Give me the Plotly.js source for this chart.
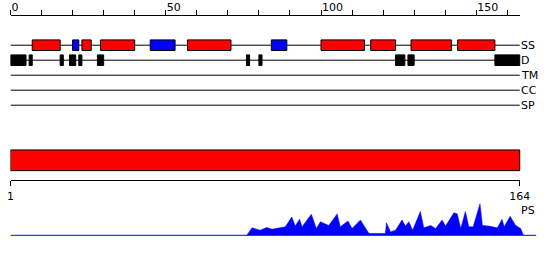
<!DOCTYPE html>
<html>
<head>
<meta charset="utf-8">
<script src="https://cdn.plot.ly/plotly-3.0.1.min.js"></script>
<style>html,body{margin:0;padding:0;background:#fff;}#chart{width:550px;height:260px;}</style>
</head>
<body>
<div id="chart"></div>
<script>
// ---- data ----
var seqLen = 164;
var trackNames = ['SS', 'D', 'TM', 'CC', 'SP'];
var topTickVals = [0, 50, 100, 150];
var bottomTickVals = [0, 164];
var bottomTickText = ['1', '164'];

// secondary structure: helices (red) and strands (blue)
var helixStart = [7, 23, 29, 57, 100, 116, 129, 144];
var helixEnd   = [16, 26, 40, 71, 114, 124, 142, 156];
var strandStart = [20, 45, 84];
var strandEnd   = [22, 53, 89];

// disorder segments (black)
var disStart = [0, 6, 16, 19, 22, 28, 76, 80, 124, 128, 156];
var disEnd   = [5, 7, 17, 21, 23, 30, 77, 81, 127, 130, 164];

// domain bar
var domainStart = [0];
var domainEnd = [164];

// PS profile
var psX = [76.1, 77.8, 80.4, 82.6, 84.2, 86.5, 88.5, 90.6, 91.7, 93.1, 93.9, 96.9, 98.5, 99.8, 102.5,
           105.2, 106.2, 108.7, 110, 112.7, 114.8, 115.4, 116, 120.7, 121.1, 122.4, 124, 126.1, 127.2,
           128.3, 129.5, 132, 133.1, 135.3, 136.9, 139, 140.1, 142.8, 143.9, 145, 146.5, 147.6, 149,
           151.2, 152, 154.1, 156.8, 158.3, 159, 160.9, 162.7, 164.3, 165.2];
var psY = [0.00, 0.22, 0.15, 0.23, 0.18, 0.21, 0.25, 0.54, 0.27, 0.47, 0.25, 0.62, 0.20, 0.40, 0.29,
           0.63, 0.25, 0.42, 0.20, 0.45, 0.15, 0.06, 0.05, 0.05, 0.37, 0.10, 0.15, 0.45, 0.27,
           0.40, 0.15, 0.70, 0.22, 0.29, 0.20, 0.45, 0.27, 0.66, 0.63, 0.20, 0.70, 0.25, 0.25,
           0.93, 0.29, 0.27, 0.22, 0.47, 0.25, 0.56, 0.29, 0.20, 0.00];

// ---- layout geometry ----
var W = 550, H = 260;
var x0px = 10.5, pxPerUnit = 3.105;
var rowTop = 45.2, rowGap = 15, boxH = 10.6;
function rowY(i) { return rowTop + rowGap * i; }
var domainY = 160.3, domainH = 20.7;
var psBase = 235.3, psTop = 201.3, psLabelY = 210.7, psLineEnd = 169.3;
var fontFam = 'DejaVu Sans, Verdana, sans-serif';

function segTrace(starts, ends, yv, h, color) {
  return {
    type: 'bar', orientation: 'h',
    base: starts,
    x: ends.map(function (e, i) { return e - starts[i]; }),
    y: starts.map(function () { return yv; }),
    width: h,
    marker: { color: color, line: { color: '#000', width: 1 } },
    xaxis: 'x', yaxis: 'y', hoverinfo: 'skip', showlegend: false
  };
}

var traces = [
  { type: 'scatter', x: [], y: [], xaxis: 'x2', yaxis: 'y', showlegend: false },
  { type: 'scatter', x: [], y: [], xaxis: 'x3', yaxis: 'y', showlegend: false },
  segTrace(helixStart, helixEnd, rowY(0), boxH, '#ff0000'),
  segTrace(strandStart, strandEnd, rowY(0), boxH, '#0000ff'),
  segTrace(disStart, disEnd, rowY(1), boxH, '#000000'),
  segTrace(domainStart, domainEnd, domainY, domainH, '#ff0000'),
  {
    type: 'scatter', mode: 'lines', x: psX, y: psY,
    fill: 'tozeroy', fillcolor: '#0000ff',
    line: { color: '#0000ff', width: 0.5 },
    xaxis: 'x', yaxis: 'y2', hoverinfo: 'skip', showlegend: false
  }
];

var shapes = [];
trackNames.forEach(function (n, i) {
  shapes.push({ type: 'line', xref: 'x', yref: 'y', x0: 0, x1: seqLen, y0: rowY(i), y1: rowY(i),
                line: { color: '#000', width: 1 }, layer: 'below' });
});
shapes.push({ type: 'line', xref: 'x', yref: 'y', x0: 0, x1: psLineEnd, y0: psBase, y1: psBase,
              line: { color: '#0000ff', width: 1 }, layer: 'below' });

var annotations = trackNames.map(function (n, i) {
  return { text: n, xref: 'x', yref: 'y', x: seqLen, y: rowY(i), xanchor: 'left', yanchor: 'middle',
           showarrow: false, font: { family: fontFam, size: 11, color: '#000' }, xshift: 0.5, borderpad: 0 };
});
annotations.push({ text: 'PS', xref: 'x', yref: 'y', x: seqLen, y: psLabelY, xanchor: 'left', yanchor: 'middle',
                   showarrow: false, font: { family: fontFam, size: 11, color: '#000' }, xshift: 0.5, borderpad: 0 });

var rulerDomain = [x0px / W, (x0px + seqLen * pxPerUnit) / W];
var fullDomainEnd = 545;

var layout = {
  width: W, height: H,
  margin: { l: 0, r: 0, t: 0, b: 0, pad: 0 },
  paper_bgcolor: '#fff', plot_bgcolor: 'rgba(0,0,0,0)',
  barmode: 'overlay',
  showlegend: false,
  font: { family: fontFam, size: 11, color: '#000' },
  xaxis: { domain: [x0px / W, fullDomainEnd / W], range: [0, (fullDomainEnd - x0px) / pxPerUnit],
           visible: false, fixedrange: true },
  yaxis: { domain: [0, 1], range: [H, 0], visible: false, fixedrange: true },
  yaxis2: { domain: [(H - psBase) / H, (H - psTop) / H], range: [0, 1], visible: false, fixedrange: true },
  xaxis2: {
    domain: rulerDomain, range: [0, seqLen], anchor: 'free', position: 1 - 15 / H, side: 'top',
    showline: true, linecolor: '#000', linewidth: 1, showgrid: false, zeroline: false,
    ticks: 'outside', ticklen: 5, tickcolor: '#000', tickwidth: 1,
    tickvals: topTickVals, ticklabelposition: 'outside right',
    minor: { tick0: 0, dtick: 10, ticks: 'outside', ticklen: 5, tickcolor: '#000', tickwidth: 1, showgrid: false },
    tickfont: { family: fontFam, size: 11, color: '#000' }, fixedrange: true
  },
  xaxis3: {
    domain: rulerDomain, range: [0, seqLen], anchor: 'free', position: 1 - 180.3 / H, side: 'bottom',
    showline: true, linecolor: '#000', linewidth: 1, showgrid: false, zeroline: false,
    ticks: 'outside', ticklen: 5, tickcolor: '#000', tickwidth: 1,
    tickvals: bottomTickVals, ticktext: bottomTickText,
    tickfont: { family: fontFam, size: 11, color: '#000' }, fixedrange: true
  },
  shapes: shapes,
  annotations: annotations
};

Plotly.newPlot('chart', traces, layout, { staticPlot: true, displayModeBar: false });
</script>
</body>
</html>
